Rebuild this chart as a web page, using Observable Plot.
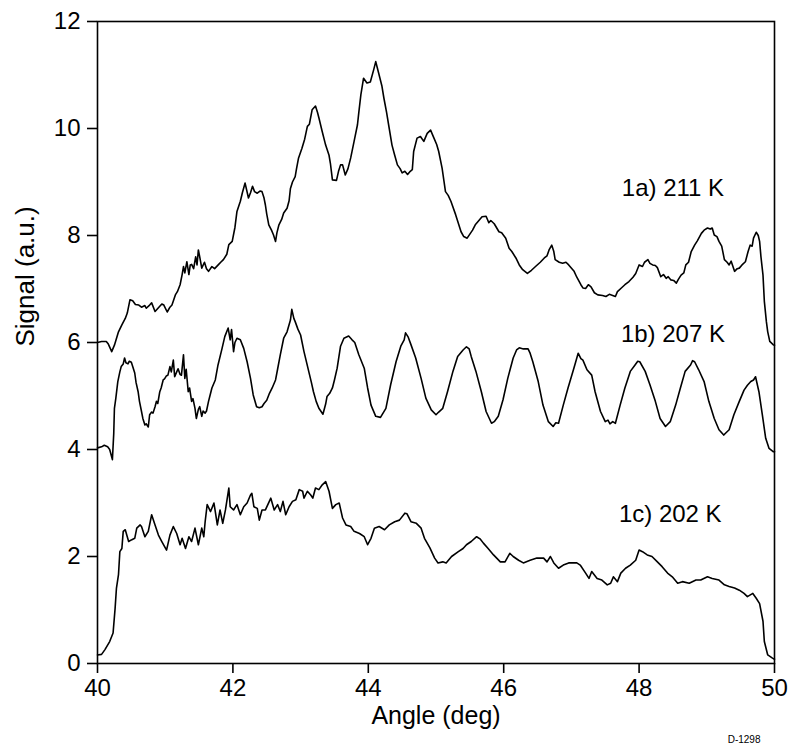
<!DOCTYPE html>
<html>
<head>
<meta charset="utf-8">
<script src="https://cdn.jsdelivr.net/npm/d3@7"></script>
<script src="https://cdn.jsdelivr.net/npm/@observablehq/plot@0.6"></script>
<style>
  html, body { margin: 0; padding: 0; background: #fff; }
  #chart svg { display: block; }
</style>
</head>
<body>
<div id="chart"></div>
<script>
// ---- Data ----
const xTicks = [40, 42, 44, 46, 48, 50];
const yTicks = [0, 2, 4, 6, 8, 10, 12];

// Curve 1a) 211 K : [angle (deg), signal (a.u.)]
const series1a = [
[40.0,6.0],[40.06,6.02],[40.13,6.02],[40.16,5.97],[40.21,5.83],[40.25,5.95],[40.31,6.2],[40.36,6.33],[40.41,6.45],[40.44,6.55],
[40.48,6.8],[40.52,6.78],[40.56,6.71],[40.61,6.7],[40.65,6.66],[40.7,6.69],[40.72,6.64],[40.77,6.7],[40.8,6.74],[40.85,6.58],
[40.9,6.65],[40.95,6.72],[40.98,6.7],[41.03,6.57],[41.07,6.66],[41.1,6.7],[41.15,6.89],[41.18,6.95],[41.22,7.08],[41.25,7.27],
[41.27,7.42],[41.29,7.3],[41.32,7.51],[41.35,7.27],[41.37,7.45],[41.39,7.46],[41.42,7.38],[41.45,7.6],[41.47,7.45],[41.49,7.73],
[41.51,7.6],[41.54,7.39],[41.58,7.5],[41.61,7.38],[41.64,7.33],[41.69,7.42],[41.73,7.38],[41.79,7.46],[41.82,7.5],[41.86,7.55],
[41.91,7.65],[41.94,7.83],[41.99,7.89],[42.03,8.15],[42.06,8.45],[42.11,8.64],[42.14,8.8],[42.18,8.98],[42.23,8.7],[42.26,8.8],
[42.29,8.92],[42.32,8.82],[42.36,8.79],[42.4,8.83],[42.43,8.82],[42.46,8.7],[42.48,8.57],[42.5,8.4],[42.53,8.2],[42.57,8.1],
[42.6,8.01],[42.63,7.89],[42.65,8.05],[42.68,8.2],[42.72,8.3],[42.75,8.42],[42.8,8.51],[42.83,8.65],[42.85,8.88],[42.88,9.0],
[42.92,9.1],[42.94,9.25],[42.97,9.45],[43.02,9.63],[43.06,9.8],[43.1,10.04],[43.13,10.08],[43.17,10.35],[43.22,10.42],[43.25,10.3],
[43.27,10.2],[43.32,9.94],[43.37,9.69],[43.42,9.5],[43.44,9.35],[43.47,9.04],[43.53,9.03],[43.56,9.2],[43.59,9.32],[43.62,9.32],
[43.66,9.13],[43.7,9.25],[43.74,9.45],[43.79,9.76],[43.84,10.07],[43.86,10.3],[43.89,10.63],[43.93,10.94],[43.98,10.85],[44.03,10.87],
[44.08,11.1],[44.11,11.25],[44.13,11.15],[44.16,11.0],[44.2,10.8],[44.23,10.57],[44.27,10.3],[44.3,10.07],[44.35,9.69],[44.39,9.5],
[44.43,9.32],[44.47,9.25],[44.5,9.17],[44.54,9.2],[44.58,9.14],[44.62,9.2],[44.65,9.23],[44.67,9.57],[44.72,9.82],[44.77,9.85],
[44.82,9.76],[44.87,9.91],[44.92,9.97],[44.97,9.82],[45.01,9.7],[45.04,9.57],[45.09,9.26],[45.14,8.82],[45.18,8.75],[45.22,8.64],
[45.29,8.39],[45.37,8.07],[45.41,7.98],[45.46,7.95],[45.54,8.1],[45.58,8.2],[45.64,8.29],[45.68,8.35],[45.74,8.36],[45.76,8.3],
[45.78,8.24],[45.81,8.28],[45.86,8.22],[45.93,8.07],[45.97,8.05],[46.03,7.95],[46.08,7.76],[46.12,7.7],[46.18,7.58],[46.23,7.45],
[46.28,7.36],[46.35,7.29],[46.41,7.35],[46.47,7.42],[46.54,7.5],[46.6,7.58],[46.64,7.62],[46.67,7.73],[46.71,7.82],[46.74,7.7],
[46.76,7.55],[46.82,7.5],[46.87,7.48],[46.92,7.5],[46.96,7.45],[47.04,7.33],[47.08,7.22],[47.14,7.08],[47.17,7.02],[47.21,7.01],
[47.25,7.08],[47.29,7.04],[47.34,6.93],[47.39,6.89],[47.46,6.88],[47.51,6.86],[47.56,6.9],[47.61,6.88],[47.65,6.86],[47.68,6.95],
[47.73,7.01],[47.79,7.08],[47.85,7.14],[47.91,7.22],[47.95,7.29],[48.0,7.45],[48.05,7.42],[48.08,7.5],[48.13,7.55],[48.16,7.48],
[48.2,7.45],[48.24,7.44],[48.27,7.4],[48.32,7.23],[48.36,7.27],[48.4,7.2],[48.43,7.23],[48.47,7.17],[48.51,7.16],[48.55,7.11],
[48.58,7.18],[48.62,7.26],[48.66,7.3],[48.69,7.45],[48.73,7.5],[48.77,7.7],[48.82,7.82],[48.86,7.9],[48.92,8.04],[48.96,8.1],
[49.01,8.14],[49.05,8.12],[49.08,8.14],[49.11,8.01],[49.15,7.98],[49.18,7.89],[49.22,7.8],[49.26,7.55],[49.3,7.5],[49.33,7.45],
[49.36,7.52],[49.41,7.33],[49.45,7.38],[49.48,7.39],[49.52,7.45],[49.57,7.51],[49.61,7.7],[49.64,7.82],[49.67,7.8],[49.69,7.95],
[49.73,8.06],[49.76,8.0],[49.78,7.89],[49.8,7.6],[49.83,7.26],[49.85,6.77],[49.88,6.39],[49.9,6.2],[49.93,6.02],[49.98,5.96],[50.0,5.95]
];

// Curve 1b) 207 K
const series1b = [
[40.0,4.03],[40.06,4.05],[40.1,4.08],[40.15,4.05],[40.18,4.0],[40.22,3.81],[40.24,4.3],[40.25,4.77],[40.27,4.95],[40.3,5.27],
[40.33,5.45],[40.35,5.55],[40.38,5.6],[40.4,5.71],[40.42,5.62],[40.45,5.6],[40.47,5.65],[40.5,5.63],[40.52,5.55],[40.55,5.43],
[40.57,5.25],[40.6,5.08],[40.62,4.9],[40.65,4.71],[40.67,4.58],[40.7,4.46],[40.72,4.48],[40.75,4.42],[40.77,4.65],[40.8,4.7],
[40.82,4.68],[40.85,4.8],[40.87,4.9],[40.89,4.86],[40.92,5.08],[40.94,5.15],[40.97,5.3],[40.99,5.32],[41.02,5.38],[41.04,5.39],
[41.07,5.55],[41.09,5.45],[41.12,5.67],[41.14,5.36],[41.17,5.45],[41.19,5.51],[41.22,5.4],[41.24,5.39],[41.27,5.77],[41.29,5.33],
[41.31,5.5],[41.34,5.08],[41.36,5.15],[41.39,4.9],[41.41,4.95],[41.44,4.77],[41.46,4.58],[41.49,4.75],[41.51,4.8],[41.54,4.62],
[41.56,4.72],[41.59,4.68],[41.61,4.72],[41.64,4.9],[41.66,5.0],[41.69,5.15],[41.74,5.3],[41.78,5.58],[41.84,5.89],[41.88,6.11],
[41.93,6.27],[41.96,6.05],[41.98,6.24],[42.01,5.83],[42.03,6.0],[42.06,6.08],[42.11,6.05],[42.16,5.89],[42.21,5.64],[42.26,5.33],
[42.3,5.02],[42.35,4.8],[42.39,4.78],[42.43,4.8],[42.46,4.86],[42.5,4.92],[42.54,5.05],[42.58,5.15],[42.63,5.3],[42.66,5.5],
[42.7,5.77],[42.75,6.08],[42.8,6.2],[42.85,6.42],[42.87,6.62],[42.9,6.45],[42.92,6.39],[42.96,6.25],[43.0,6.14],[43.05,5.83],
[43.09,5.62],[43.12,5.46],[43.16,5.25],[43.19,5.08],[43.23,4.9],[43.27,4.77],[43.33,4.66],[43.37,4.85],[43.39,4.99],[43.43,5.05],
[43.47,5.15],[43.5,5.3],[43.54,5.52],[43.59,5.93],[43.64,6.08],[43.71,6.12],[43.76,6.05],[43.8,6.0],[43.86,5.77],[43.94,5.52],
[43.99,5.15],[44.04,4.83],[44.11,4.62],[44.18,4.6],[44.26,4.77],[44.33,5.21],[44.41,5.64],[44.48,5.93],[44.53,6.05],[44.55,6.18],
[44.59,6.1],[44.63,5.96],[44.7,5.71],[44.78,5.33],[44.85,4.96],[44.93,4.74],[45.0,4.65],[45.04,4.7],[45.1,4.77],[45.17,5.08],
[45.25,5.46],[45.32,5.74],[45.4,5.86],[45.45,5.92],[45.49,5.88],[45.52,5.74],[45.59,5.46],[45.67,5.08],[45.74,4.71],[45.82,4.49],
[45.86,4.52],[45.92,4.62],[45.99,4.93],[46.06,5.33],[46.14,5.71],[46.19,5.86],[46.23,5.9],[46.29,5.88],[46.36,5.88],[46.39,5.8],
[46.43,5.64],[46.51,5.27],[46.58,4.83],[46.66,4.52],[46.73,4.43],[46.77,4.5],[46.81,4.49],[46.88,4.83],[46.95,5.15],[47.03,5.49],
[47.06,5.62],[47.1,5.8],[47.14,5.7],[47.17,5.67],[47.23,5.49],[47.3,5.39],[47.35,5.08],[47.43,4.71],[47.5,4.52],[47.54,4.55],
[47.57,4.48],[47.61,4.52],[47.65,4.49],[47.72,4.83],[47.79,5.15],[47.87,5.46],[47.94,5.58],[47.98,5.65],[48.01,5.64],[48.09,5.46],
[48.16,5.21],[48.24,4.9],[48.31,4.58],[48.39,4.43],[48.46,4.52],[48.54,4.83],[48.61,5.15],[48.68,5.46],[48.76,5.58],[48.79,5.66],
[48.82,5.64],[48.88,5.49],[48.96,5.27],[49.03,4.9],[49.11,4.58],[49.18,4.37],[49.25,4.27],[49.33,4.37],[49.4,4.65],[49.48,4.9],
[49.55,5.11],[49.6,5.2],[49.65,5.27],[49.69,5.3],[49.72,5.36],[49.77,5.08],[49.82,4.65],[49.87,4.21],[49.92,4.02],[49.98,3.96],[50.0,3.96]
];

// Curve 1c) 202 K
const series1c = [
[40.0,0.16],[40.06,0.17],[40.11,0.26],[40.18,0.41],[40.23,0.57],[40.26,1.03],[40.28,1.41],[40.31,1.66],[40.33,2.09],[40.36,2.15],
[40.38,2.47],[40.41,2.5],[40.46,2.28],[40.5,2.31],[40.55,2.34],[40.58,2.53],[40.63,2.59],[40.65,2.56],[40.7,2.37],[40.75,2.47],
[40.8,2.78],[40.85,2.59],[40.9,2.4],[40.95,2.28],[41.02,2.12],[41.07,2.4],[41.12,2.56],[41.17,2.43],[41.22,2.22],[41.25,2.34],
[41.3,2.15],[41.35,2.37],[41.39,2.28],[41.44,2.53],[41.49,2.22],[41.54,2.53],[41.57,2.37],[41.59,2.65],[41.62,2.97],[41.67,2.84],
[41.72,3.0],[41.74,2.84],[41.77,2.59],[41.81,2.87],[41.85,2.62],[41.89,2.87],[41.94,3.28],[41.96,2.93],[42.01,2.87],[42.06,2.97],
[42.11,2.78],[42.16,2.93],[42.21,3.0],[42.26,3.15],[42.28,3.18],[42.31,2.93],[42.36,2.9],[42.39,2.68],[42.43,2.87],[42.48,2.87],
[42.56,3.09],[42.61,2.87],[42.66,2.97],[42.7,2.84],[42.74,3.03],[42.78,2.78],[42.83,2.93],[42.88,3.03],[42.93,3.06],[42.98,3.25],
[43.03,3.22],[43.05,3.09],[43.1,3.22],[43.15,3.15],[43.18,3.09],[43.22,3.28],[43.27,3.25],[43.32,3.34],[43.37,3.4],[43.42,3.22],
[43.47,2.9],[43.52,2.97],[43.57,3.0],[43.62,2.72],[43.67,2.59],[43.74,2.56],[43.79,2.47],[43.87,2.43],[43.94,2.37],[43.99,2.22],
[44.04,2.34],[44.09,2.53],[44.16,2.56],[44.24,2.5],[44.31,2.59],[44.39,2.65],[44.46,2.68],[44.54,2.81],[44.57,2.8],[44.63,2.65],
[44.71,2.62],[44.78,2.53],[44.83,2.34],[44.91,2.16],[44.98,1.97],[45.03,1.88],[45.1,1.9],[45.15,1.88],[45.23,2.0],[45.33,2.09],
[45.4,2.15],[45.45,2.22],[45.52,2.28],[45.6,2.37],[45.65,2.33],[45.7,2.25],[45.77,2.15],[45.85,2.03],[45.95,1.9],[46.02,1.9],
[46.09,2.06],[46.14,2.0],[46.22,1.93],[46.29,1.88],[46.39,1.93],[46.49,1.97],[46.59,1.97],[46.64,1.9],[46.69,2.0],[46.74,1.88],
[46.81,1.78],[46.88,1.84],[46.96,1.88],[47.08,1.88],[47.13,1.84],[47.21,1.69],[47.26,1.59],[47.3,1.72],[47.38,1.59],[47.45,1.56],
[47.53,1.47],[47.58,1.5],[47.62,1.62],[47.68,1.53],[47.73,1.69],[47.8,1.78],[47.87,1.84],[47.95,1.93],[48.0,2.12],[48.05,2.09],
[48.12,2.03],[48.19,2.0],[48.27,1.9],[48.34,1.81],[48.42,1.69],[48.49,1.62],[48.57,1.5],[48.64,1.53],[48.74,1.5],[48.84,1.56],
[48.91,1.56],[49.01,1.62],[49.08,1.59],[49.18,1.56],[49.26,1.47],[49.33,1.44],[49.41,1.41],[49.48,1.37],[49.55,1.31],[49.6,1.25],
[49.68,1.31],[49.73,1.22],[49.78,1.12],[49.83,0.79],[49.85,0.41],[49.9,0.16],[49.97,0.1],[50.0,0.08]
];

const curveLabels = ["1a) 211 K", "1b) 207 K", "1c) 202 K"];
const labelAngles = [48.5, 48.5, 48.46];
const labelSignals = [8.88, 6.15, 2.79];

// ---- Build ----
const toRows = s => s.map(([a, v]) => ({angle: a, signal: v}));
const labels = curveLabels.map((t, i) => ({text: t, angle: labelAngles[i], signal: labelSignals[i]}));
const FONT = "'Liberation Sans', Arial, Helvetica, sans-serif";

const chart = Plot.plot({
  width: 790,
  height: 749,
  marginLeft: 97,
  marginRight: 16,
  marginTop: 21,
  marginBottom: 86,
  style: {fontFamily: FONT, background: "#fff", color: "#000"},
  x: {domain: [40, 50], ticks: xTicks},
  y: {domain: [0, 12], ticks: yTicks},
  marks: [
    Plot.frame({stroke: "#000", strokeWidth: 1.6}),
    Plot.axisX({ticks: xTicks, tickSize: 10, tickPadding: 5, fontSize: 24, label: null, stroke: "#000", strokeWidth: 1.6}),
    Plot.axisY({ticks: yTicks, tickSize: 10, tickPadding: 7, fontSize: 24, label: null, stroke: "#000", strokeWidth: 1.6}),
    Plot.line(toRows(series1a), {x: "angle", y: "signal", stroke: "#000", strokeWidth: 1.6}),
    Plot.line(toRows(series1b), {x: "angle", y: "signal", stroke: "#000", strokeWidth: 1.6}),
    Plot.line(toRows(series1c), {x: "angle", y: "signal", stroke: "#000", strokeWidth: 1.6}),
    Plot.text(labels, {x: "angle", y: "signal", text: "text", fontSize: 24, fill: "#000"}),
    Plot.text(["Signal (a.u.)"], {frameAnchor: "left", rotate: -90, dx: -72, dy: 4, fontSize: 26, fill: "#000"}),
    Plot.text(["Angle (deg)"], {frameAnchor: "bottom", dy: 60, fontSize: 25, fill: "#000"}),
    Plot.text(["D-1298"], {frameAnchor: "bottom-right", dx: -14, dy: 79, fontSize: 10, fill: "#000"})
  ]
});
document.getElementById("chart").appendChild(chart);
</script>
</body>
</html>
